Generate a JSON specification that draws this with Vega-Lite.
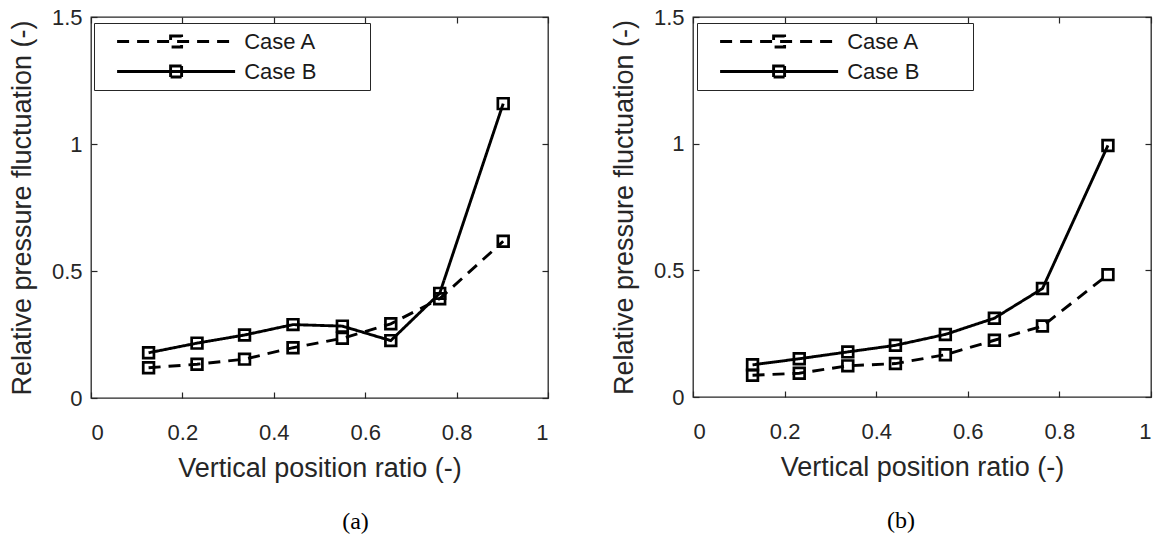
{
  "$schema": "https://vega.github.io/schema/vega-lite/v6.json",
  "background": "white",
  "padding": {"left": 7, "top": 5, "right": 0, "bottom": 0},
  "spacing": 59,
  "data": {"values": [
    {"panel": "a", "case": "Case A", "x": 0.126, "y": 0.119},
    {"panel": "a", "case": "Case A", "x": 0.232, "y": 0.133},
    {"panel": "a", "case": "Case A", "x": 0.336, "y": 0.153},
    {"panel": "a", "case": "Case A", "x": 0.442, "y": 0.198},
    {"panel": "a", "case": "Case A", "x": 0.550, "y": 0.235},
    {"panel": "a", "case": "Case A", "x": 0.656, "y": 0.292},
    {"panel": "a", "case": "Case A", "x": 0.763, "y": 0.391},
    {"panel": "a", "case": "Case A", "x": 0.902, "y": 0.617},
    {"panel": "a", "case": "Case B", "x": 0.126, "y": 0.178},
    {"panel": "a", "case": "Case B", "x": 0.232, "y": 0.216},
    {"panel": "a", "case": "Case B", "x": 0.336, "y": 0.248},
    {"panel": "a", "case": "Case B", "x": 0.442, "y": 0.289},
    {"panel": "a", "case": "Case B", "x": 0.550, "y": 0.283},
    {"panel": "a", "case": "Case B", "x": 0.656, "y": 0.226},
    {"panel": "a", "case": "Case B", "x": 0.763, "y": 0.412},
    {"panel": "a", "case": "Case B", "x": 0.902, "y": 1.159},
    {"panel": "b", "case": "Case A", "x": 0.130, "y": 0.086},
    {"panel": "b", "case": "Case A", "x": 0.232, "y": 0.094},
    {"panel": "b", "case": "Case A", "x": 0.338, "y": 0.123},
    {"panel": "b", "case": "Case A", "x": 0.442, "y": 0.132},
    {"panel": "b", "case": "Case A", "x": 0.551, "y": 0.167},
    {"panel": "b", "case": "Case A", "x": 0.658, "y": 0.224},
    {"panel": "b", "case": "Case A", "x": 0.763, "y": 0.280},
    {"panel": "b", "case": "Case A", "x": 0.906, "y": 0.483},
    {"panel": "b", "case": "Case B", "x": 0.130, "y": 0.127},
    {"panel": "b", "case": "Case B", "x": 0.232, "y": 0.151},
    {"panel": "b", "case": "Case B", "x": 0.338, "y": 0.178},
    {"panel": "b", "case": "Case B", "x": 0.442, "y": 0.204},
    {"panel": "b", "case": "Case B", "x": 0.551, "y": 0.247},
    {"panel": "b", "case": "Case B", "x": 0.658, "y": 0.311},
    {"panel": "b", "case": "Case B", "x": 0.763, "y": 0.428},
    {"panel": "b", "case": "Case B", "x": 0.906, "y": 0.993}
  ]},
  "config": {
    "view": {"stroke": "#262626", "strokeWidth": 1.3},
    "font": "Liberation Sans",
    "axis": {
      "labelFont": "Liberation Sans", "labelFontSize": 22, "labelColor": "#262626",
      "titleFont": "Liberation Sans", "titleFontSize": 27, "titleColor": "#262626", "titleFontWeight": "normal",
      "tickColor": "#262626", "tickSize": -6, "tickWidth": 1.2, "domain": false, "grid": false
    },
    "legend": {
      "orient": "none", "legendX": 3, "legendY": 6,
      "strokeColor": "#262626", "fillColor": "white", "padding": 7,
      "symbolType": "M-0.55,-0.55H0.55V0.55H-0.55ZM-5.9,0H5.9M18.1,0L18.1,0", "symbolSize": 400,
      "symbolStrokeWidth": 2.9, "symbolStrokeColor": "black", "symbolFillColor": "transparent",
      "labelFont": "Liberation Sans", "labelFontSize": 22, "labelColor": "#1a1a1a",
      "symbolOffset": 63.6, "labelOffset": 56.6, "rowPadding": 7
    }
  },
  "resolve": {"scale": {"strokeDash": "independent"}, "legend": {"strokeDash": "independent"}},
  "hconcat": [
    {
      "width": 457, "height": 381,
      "transform": [{"filter": "datum.panel == 'a'"}],
      "title": {"text": "(a)", "orient": "bottom", "anchor": "middle", "frame": "group", "dx": 36, "offset": 29, "font": "Liberation Serif", "fontSize": 24, "fontWeight": "normal", "color": "black"},
      "layer": [
        {
          "mark": {"type": "line", "color": "black", "strokeWidth": 2.9},
          "encoding": {
            "x": {"field": "x", "type": "quantitative", "scale": {"domain": [0, 1]}, "axis": {"values": [0, 0.2, 0.4, 0.6, 0.8, 1], "format": "~g", "title": "Vertical position ratio (-)", "labelPadding": 30, "titlePadding": 12}},
            "y": {"field": "y", "type": "quantitative", "scale": {"domain": [0, 1.5]}, "axis": {"values": [0, 0.5, 1, 1.5], "format": "~g", "title": "Relative pressure fluctuation (-)", "labelPadding": 15, "titlePadding": 15}},
            "strokeDash": {"field": "case", "type": "nominal", "scale": {"domain": ["Case A", "Case B"], "range": [[12, 8], [1, 0]]}, "legend": {"title": null}}
          }
        },
        {
          "mark": {"type": "point", "shape": "square", "filled": false, "color": "black", "strokeWidth": 2.7, "size": 115, "opacity": 1},
          "encoding": {
            "x": {"field": "x", "type": "quantitative", "scale": {"domain": [0, 1]}, "axis": {"orient": "top", "values": [0, 0.2, 0.4, 0.6, 0.8, 1], "labels": false, "title": null}},
            "y": {"field": "y", "type": "quantitative", "scale": {"domain": [0, 1.5]}, "axis": {"orient": "right", "values": [0, 0.5, 1, 1.5], "labels": false, "title": null}},
            "detail": {"field": "case"}
          }
        }
      ],
      "resolve": {"axis": {"x": "independent", "y": "independent"}}
    },
    {
      "width": 458, "height": 380,
      "transform": [{"filter": "datum.panel == 'b'"}],
      "title": {"text": "(b)", "orient": "bottom", "anchor": "middle", "frame": "group", "dx": -21, "offset": 29, "font": "Liberation Serif", "fontSize": 24, "fontWeight": "normal", "color": "black"},
      "layer": [
        {
          "mark": {"type": "line", "color": "black", "strokeWidth": 2.9},
          "encoding": {
            "x": {"field": "x", "type": "quantitative", "scale": {"domain": [0, 1]}, "axis": {"values": [0, 0.2, 0.4, 0.6, 0.8, 1], "format": "~g", "title": "Vertical position ratio (-)", "labelPadding": 30, "titlePadding": 12}},
            "y": {"field": "y", "type": "quantitative", "scale": {"domain": [0, 1.5]}, "axis": {"values": [0, 0.5, 1, 1.5], "format": "~g", "title": "Relative pressure fluctuation (-)", "labelPadding": 15, "titlePadding": 15}},
            "strokeDash": {"field": "case", "type": "nominal", "scale": {"domain": ["Case A", "Case B"], "range": [[12, 8], [1, 0]]}, "legend": {"title": null, "legendX": 4}}
          }
        },
        {
          "mark": {"type": "point", "shape": "square", "filled": false, "color": "black", "strokeWidth": 2.7, "size": 115, "opacity": 1},
          "encoding": {
            "x": {"field": "x", "type": "quantitative", "scale": {"domain": [0, 1]}, "axis": {"orient": "top", "values": [0, 0.2, 0.4, 0.6, 0.8, 1], "labels": false, "title": null}},
            "y": {"field": "y", "type": "quantitative", "scale": {"domain": [0, 1.5]}, "axis": {"orient": "right", "values": [0, 0.5, 1, 1.5], "labels": false, "title": null}},
            "detail": {"field": "case"}
          }
        }
      ],
      "resolve": {"axis": {"x": "independent", "y": "independent"}}
    }
  ]
}
